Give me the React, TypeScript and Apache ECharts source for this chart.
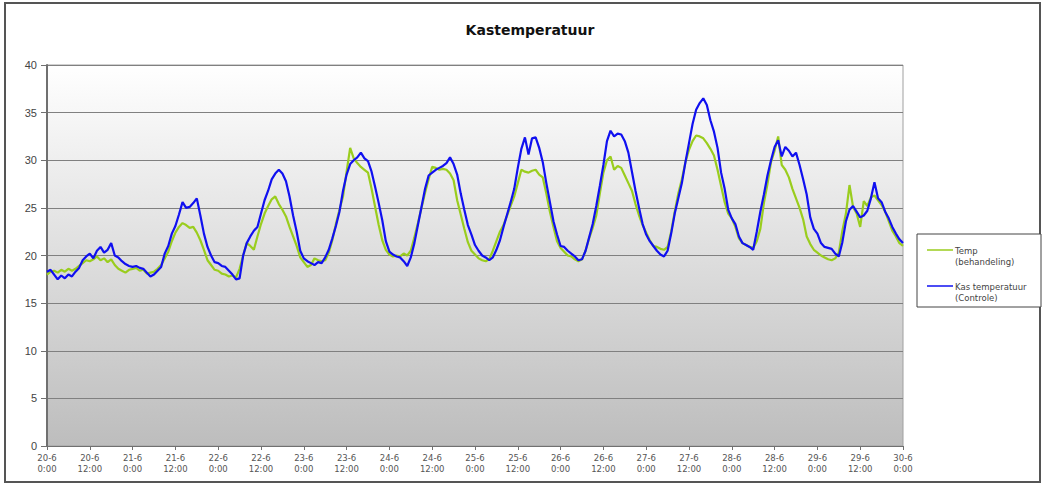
import React, { useEffect, useRef } from "react";
import * as echarts from "echarts";

const title = "Kastemperatuur";
const seriesNames = ["Temp (behandeling)", "Kas temperatuur (Controle)"];
const legendLines = [["Temp", "(behandeling)"], ["Kas temperatuur", "(Controle)"]];

// hourly values, 20-6 0:00 .. 30-6 0:00
const tempBehandeling = [
  18.0, 18.3, 18.4, 18.2, 18.5, 18.3, 18.6, 18.4, 18.6, 18.9, 19.2, 19.5, 19.4, 19.6, 19.9, 19.5, 19.7, 19.3, 19.6, 19.0, 18.6, 18.4, 18.2, 18.5,
  18.6, 18.7, 18.4, 18.5, 18.1, 18.2, 18.3, 18.6, 19.0, 19.7, 20.4, 21.5, 22.4, 23.0, 23.4, 23.2, 22.9, 23.0, 22.4, 21.6, 20.6, 19.5, 19.0, 18.5,
  18.4, 18.1, 18.0, 17.8, 17.9, 17.7, 18.6, 20.0, 21.3, 21.0, 20.6, 22.0, 23.3, 24.4, 25.2, 25.9, 26.2, 25.4, 24.8, 24.1, 23.0, 22.0, 21.0, 19.8,
  19.3, 18.8, 19.0, 19.7, 19.5, 19.4, 19.5, 20.3, 21.6, 23.3, 24.8, 26.2, 28.8, 31.3, 30.2, 29.7, 29.3, 29.0, 28.7, 27.0, 25.1, 23.2, 21.6, 20.6,
  20.1, 19.9, 20.0, 19.9, 20.2, 20.0, 20.5, 21.9, 23.4, 25.0, 26.6, 28.0, 29.3, 29.2, 29.0, 29.1, 29.0, 28.6, 27.9, 25.8, 24.3, 22.8, 21.4, 20.5,
  20.1, 19.7, 19.5, 19.4, 19.6, 20.5, 21.5, 22.5, 23.2, 24.2, 25.2, 26.2, 27.6, 29.0, 28.8, 28.7, 28.9, 29.0, 28.5, 28.2, 26.5, 24.6, 23.0, 21.5,
  20.8, 20.4, 20.0, 19.9, 19.6, 19.4, 19.6, 20.5, 21.8, 22.9, 24.2, 26.5, 28.7, 30.0, 30.4, 29.0, 29.4, 29.2, 28.4, 27.6, 26.8, 25.4, 24.2, 23.2,
  22.4, 21.6, 21.0, 20.9, 20.7, 20.6, 20.9, 22.5, 24.6, 26.5, 28.0, 29.8, 31.1, 32.0, 32.6, 32.5, 32.3, 31.8, 31.2, 30.5, 29.0, 27.3, 25.6, 24.4,
  23.9, 23.0, 21.8, 21.3, 21.1, 20.9, 20.8, 21.5, 22.8, 25.5, 27.5, 29.8, 31.0, 32.5, 29.5, 29.0, 28.2, 27.0, 26.0, 25.0, 23.8, 22.0, 21.2, 20.6,
  20.3, 20.0, 19.8, 19.6, 19.5, 19.7, 20.3, 22.6, 24.4, 27.4, 25.1, 24.4, 23.0, 25.7, 25.2, 26.1, 26.3, 25.8, 25.3, 24.6, 23.6, 22.6, 22.0, 21.3,
  21.0,
];

const kasTemperatuur = [
  18.3, 18.5, 18.0, 17.5, 17.9, 17.6, 18.0, 17.8, 18.3, 18.7, 19.5, 19.9, 20.2, 19.7, 20.5, 20.9, 20.3, 20.6, 21.3, 20.0, 19.8, 19.4, 19.1, 18.9,
  18.8, 18.9, 18.7, 18.6, 18.2, 17.8, 18.0, 18.4, 18.8, 20.2, 21.0, 22.3, 23.1, 24.3, 25.6, 25.0, 25.1, 25.5, 26.0, 24.2, 22.3, 20.9, 20.0, 19.3,
  19.2, 18.9, 18.8, 18.4, 18.0, 17.5, 17.6, 20.0, 21.3, 22.0, 22.6, 23.0, 24.4, 25.8, 26.8, 28.0, 28.6, 29.0, 28.6, 27.8, 26.2, 24.2, 22.5, 20.5,
  19.7, 19.4, 19.2, 19.0, 19.3, 19.2, 19.8, 20.6, 21.8, 23.1, 24.6, 26.8, 28.5, 29.6, 30.0, 30.3, 30.8, 30.2, 29.9, 28.8, 27.2, 25.5, 23.7, 21.5,
  20.4, 20.1, 19.9, 19.8, 19.4, 18.9, 19.8, 21.3, 23.2, 25.1, 27.0, 28.4, 28.7, 29.0, 29.2, 29.4, 29.7, 30.3, 29.6, 28.5, 26.5, 24.8, 23.2, 22.2,
  21.1, 20.5, 20.0, 19.8, 19.5, 19.8, 20.6, 21.6, 23.0, 24.3, 25.6, 27.0, 29.2, 31.2, 32.4, 30.6, 32.3, 32.4, 31.3, 29.8, 27.6, 25.6, 23.6, 22.2,
  21.0, 20.9, 20.5, 20.2, 19.9, 19.5, 19.6, 20.5, 21.9, 23.3, 25.2, 27.3, 29.5, 32.0, 33.1, 32.5, 32.8, 32.7, 32.0, 30.8, 28.8, 26.8, 25.0, 23.3,
  22.2, 21.5, 21.0, 20.5, 20.1, 19.9, 20.5, 22.3, 24.4, 26.0, 27.6, 29.8, 31.8, 33.8, 35.3, 36.0, 36.5, 35.8, 34.2, 33.0, 31.3, 28.7, 27.0, 24.8,
  23.9, 23.3, 22.0, 21.3, 21.1, 20.9, 20.6, 22.5, 24.6, 26.4, 28.4, 30.0, 31.4, 32.1, 30.4, 31.4, 31.0, 30.4, 30.8, 29.5, 28.0, 26.4, 24.0, 22.8,
  22.3, 21.3, 20.9, 20.8, 20.7, 20.2, 19.9, 21.4, 23.6, 24.8, 25.2, 24.6, 24.0, 24.2, 24.7, 26.0, 27.7, 26.0, 25.6, 24.6, 23.9, 23.0, 22.3, 21.7,
  21.3,
];

const xTickLabels = [
  "20-6\n0:00", "20-6\n12:00", "21-6\n0:00", "21-6\n12:00", "22-6\n0:00", "22-6\n12:00",
  "23-6\n0:00", "23-6\n12:00", "24-6\n0:00", "24-6\n12:00", "25-6\n0:00", "25-6\n12:00",
  "26-6\n0:00", "26-6\n12:00", "27-6\n0:00", "27-6\n12:00", "28-6\n0:00", "28-6\n12:00",
  "29-6\n0:00", "29-6\n12:00", "30-6\n0:00",
];

const colors = ["#9ACD1E", "#1010F0"];

export default function App() {
  const ref = useRef<HTMLDivElement>(null);
  useEffect(() => {
    if (!ref.current) return;
    const chart = echarts.init(ref.current, null, { renderer: "svg" });
    const toPairs = (arr: number[]) => arr.map((v, i) => [i, v]);
    const font = "Arial, 'Liberation Sans', sans-serif";
    const wideFont = "'DejaVu Sans', Arial, sans-serif";
    const legendX = 927;
    const legendY = [250, 286];
    const legendGraphics: any[] = [];
    legendLines.forEach((lines, k) => {
      legendGraphics.push({
        type: "line",
        shape: { x1: legendX, y1: legendY[k], x2: legendX + 26, y2: legendY[k] },
        style: { stroke: colors[k], lineWidth: 1.5 },
      });
      legendGraphics.push({
        type: "text",
        x: legendX + 28,
        y: legendY[k] - 5,
        style: { text: lines.join("\n"), fontSize: 8.5, lineHeight: 11, fill: "#444", fontFamily: wideFont },
      });
    });
    chart.setOption({
      animation: false,
      backgroundColor: "#ffffff",
      title: {
        text: title,
        left: 525,
        top: 18,
        textAlign: "center",
        textStyle: { fontSize: 14, fontWeight: "bold", color: "#111", fontFamily: wideFont },
      },
      grid: {
        left: 47,
        right: 141,
        top: 65,
        bottom: 39,
        show: true,
        borderColor: "#a0a0a0",
        borderWidth: 1,
        backgroundColor: {
          type: "linear",
          x: 0, y: 0, x2: 0, y2: 1,
          colorStops: [
            { offset: 0, color: "#ffffff" },
            { offset: 1, color: "#bdbdbd" },
          ],
        },
      },
      xAxis: {
        type: "value",
        min: 0,
        max: 240,
        interval: 12,
        axisLine: { show: true, lineStyle: { color: "#707070", width: 1 } },
        axisTick: { show: true, length: 4, lineStyle: { color: "#707070" } },
        splitLine: { show: false },
        axisLabel: {
          formatter: (v: number) => xTickLabels[Math.round(v / 12)] ?? "",
          fontSize: 8.5,
          lineHeight: 11,
          color: "#555",
          margin: 6,
          fontFamily: wideFont,
          showMinLabel: true,
          showMaxLabel: true,
        },
      },
      yAxis: {
        type: "value",
        min: 0,
        max: 40,
        interval: 5,
        axisLine: { show: true, lineStyle: { color: "#707070", width: 2 } },
        axisTick: { show: true, length: 6, lineStyle: { color: "#707070" } },
        splitLine: { show: true, lineStyle: { color: "#808080", width: 1 } },
        axisLabel: { fontSize: 11, color: "#444", margin: 10, fontFamily: font },
      },
      series: [
        {
          name: seriesNames[0],
          type: "line",
          data: toPairs(tempBehandeling),
          showSymbol: false,
          lineStyle: { color: colors[0], width: 2.2 },
          itemStyle: { color: colors[0] },
          z: 2,
        },
        {
          name: seriesNames[1],
          type: "line",
          data: toPairs(kasTemperatuur),
          showSymbol: false,
          lineStyle: { color: colors[1], width: 2.2 },
          itemStyle: { color: colors[1] },
          z: 3,
        },
      ],
      graphic: [
        {
          type: "rect",
          shape: { x: 5, y: 3, width: 1035, height: 479 },
          style: { fill: "none", stroke: "#555", lineWidth: 2 },
          silent: true,
        },
        {
          type: "rect",
          shape: { x: 917, y: 234, width: 124, height: 73 },
          style: { fill: "#fff", stroke: "#444", lineWidth: 1 },
          silent: true,
        },
        ...legendGraphics,
      ],
    });
    return () => chart.dispose();
  }, []);
  return (
    <div
      ref={ref}
      style={{ position: "fixed", left: 0, top: 0, width: 1044, height: 485 }}
    />
  );
}
